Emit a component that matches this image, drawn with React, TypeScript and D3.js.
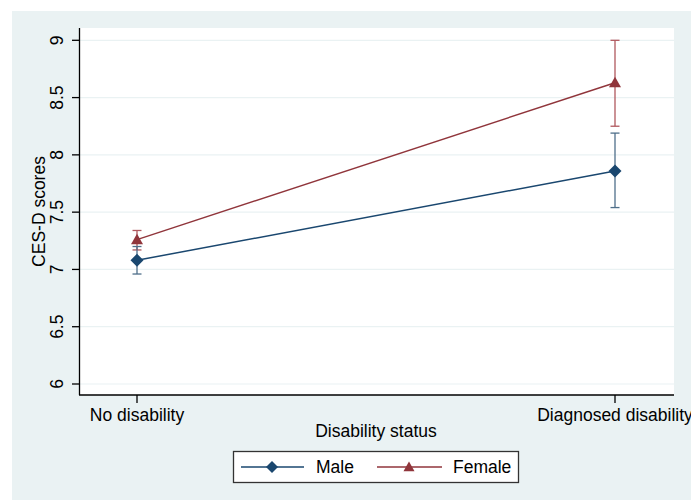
import React from 'react';
import * as d3 from 'd3';

// data
const categories = ['No disability', 'Diagnosed disability'];
const maleMean = [7.08, 7.86];
const maleLow = [6.96, 7.54];
const maleHigh = [7.2, 8.19];
const femaleMean = [7.26, 8.63];
const femaleLow = [7.17, 8.25];
const femaleHigh = [7.34, 9.0];
const yTicks = [6, 6.5, 7, 7.5, 8, 8.5, 9];
const yTickLabels = ['6', '6.5', '7', '7.5', '8', '8.5', '9'];

const MALE = '#1a476f';
const FEMALE = '#90353b';
const MALE_CI = '#4f6f8a';
const FEMALE_CI = '#b0585e';
const BG = '#eaf2f3';
const FONT = '"Liberation Sans", Arial, sans-serif';
const FS = 17.5;

const W = 691;
const H = 500;
const plotLeft = 80;
const plotRight = 674;
const plotTop = 28;
const plotBottom = 395;

const App: React.FC = () => {
    const x = d3.scalePoint<string>()
        .domain(categories)
        .range([137, 615]);
    const y = d3.scaleLinear()
        .domain([6, 9])
        .range([384, 40.3]);

    const line = d3.line<number>()
        .x((_, i) => x(categories[i]) as number)
        .y(d => y(d));

    const diamond = (cx: number, cy: number, r: number) =>
        `M${cx},${cy - r}L${cx + r},${cy}L${cx},${cy + r}L${cx - r},${cy}Z`;
    const triangle = (cx: number, cy: number, r: number) =>
        `M${cx},${cy - r}L${cx + r},${cy + r * 0.75}L${cx - r},${cy + r * 0.75}Z`;

    const capW = 4.5;

    const errorBars = (lo: number[], hi: number[], color: string) =>
        categories.map((c, i) => {
            const cx = x(c) as number;
            return (
                <g key={c} stroke={color} strokeWidth={1.3}>
                    <line x1={cx} x2={cx} y1={y(lo[i])} y2={y(hi[i])} />
                    <line x1={cx - capW} x2={cx + capW} y1={y(lo[i])} y2={y(lo[i])} />
                    <line x1={cx - capW} x2={cx + capW} y1={y(hi[i])} y2={y(hi[i])} />
                </g>
            );
        });

    return (
        <svg width={W} height={H} style={{ position: 'absolute', left: 0, top: 0, background: 'white' }}
            fontFamily={FONT}>
            <rect x={12} y={11} width={W - 12} height={H - 11} fill={BG} />
            <rect x={plotLeft} y={plotTop} width={plotRight - plotLeft} height={plotBottom - plotTop} fill="white" />

            {/* grid */}
            {yTicks.map(t => (
                <line key={'g' + t} x1={plotLeft} x2={plotRight} y1={y(t)} y2={y(t)} stroke={BG} strokeWidth={1.2} />
            ))}

            {/* y axis */}
            <line x1={plotLeft - 0.5} x2={plotLeft - 0.5} y1={plotTop} y2={plotBottom} stroke="#000" strokeWidth={1.3} />
            {yTicks.map((t, i) => (
                <g key={'y' + t}>
                    <line x1={plotLeft - 8} x2={plotLeft} y1={y(t)} y2={y(t)} stroke="#000" strokeWidth={1.3} />
                    <text transform={`translate(63,${y(t)}) rotate(-90)`} textAnchor="middle" fontSize={FS} fill="#000">
                        {yTickLabels[i]}
                    </text>
                </g>
            ))}
            <text transform={`translate(45,${(plotTop + plotBottom) / 2}) rotate(-90)`} textAnchor="middle" fontSize={FS} fill="#000">
                CES-D scores
            </text>

            {/* x axis */}
            <line x1={plotLeft - 1} x2={plotRight} y1={plotBottom} y2={plotBottom} stroke="#000" strokeWidth={1.3} />
            {categories.map(c => (
                <g key={'x' + c}>
                    <line x1={x(c)} x2={x(c)} y1={plotBottom} y2={plotBottom + 8} stroke="#000" strokeWidth={1.3} />
                    <text x={x(c)} y={plotBottom + 26} textAnchor="middle" fontSize={FS} fill="#000">{c}</text>
                </g>
            ))}
            <text x={376} y={437} textAnchor="middle" fontSize={FS} fill="#000">Disability status</text>

            {/* error bars */}
            {errorBars(femaleLow, femaleHigh, FEMALE_CI)}
            {errorBars(maleLow, maleHigh, MALE_CI)}

            {/* lines */}
            <path d={line(maleMean) as string} fill="none" stroke={MALE} strokeWidth={1.5} />
            <path d={line(femaleMean) as string} fill="none" stroke={FEMALE} strokeWidth={1.5} />

            {/* markers */}
            {maleMean.map((v, i) => (
                <path key={'m' + i} d={diamond(x(categories[i]) as number, y(v), 6.5)} fill={MALE} />
            ))}
            {femaleMean.map((v, i) => (
                <path key={'f' + i} d={triangle(x(categories[i]) as number, y(v), 6)} fill={FEMALE} />
            ))}

            {/* legend */}
            <rect x={233.5} y={451.5} width={285} height={31} fill="white" stroke="#333" strokeWidth={1.3} />
            <line x1={241} x2={304} y1={467} y2={467} stroke={MALE} strokeWidth={1.5} />
            <path d={diamond(272, 467, 6)} fill={MALE} />
            <text x={316} y={473} fontSize={FS} fill="#000">Male</text>
            <line x1={377} x2={442} y1={467} y2={467} stroke={FEMALE} strokeWidth={1.5} />
            <path d={triangle(409, 467, 5.5)} fill={FEMALE} />
            <text x={453} y={473} fontSize={FS} fill="#000">Female</text>
        </svg>
    );
};

export default App;
